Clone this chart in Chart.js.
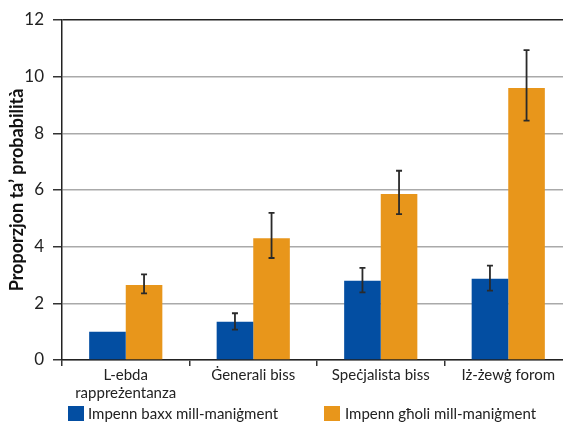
<!DOCTYPE html>
<html>
<head>
<meta charset="utf-8">
<script src="https://cdn.jsdelivr.net/npm/chart.js@4/dist/chart.umd.min.js"></script>
<style>
  html, body { margin: 0; padding: 0; background: #fff; overflow: hidden; width: 563px; height: 422px; }
  #wrap { position: absolute; left: 0; top: 0; width: 572px; height: 422px; }
  .lg { position: absolute; top: 404px; font-family: Lato, "Open Sans", sans-serif; font-size: 15px; color: #222; white-space: nowrap; }
  .lg span.box { position: absolute; top: 2px; width: 16px; height: 15px; }
  .lg span.txt { position: absolute; top: 0; line-height: 19px; }
</style>
</head>
<body>
<div id="wrap"><canvas id="c"></canvas></div>
<div class="lg" style="left:68px"><span class="box" style="left:0;background:#034ea2"></span><span class="txt" style="left:20px">Impenn baxx mill-maniġment</span></div>
<div class="lg" style="left:324px"><span class="box" style="left:0;background:#e8961b"></span><span class="txt" style="left:21px">Impenn għoli mill-maniġment</span></div>
<script>
const categories = [["L-ebda", "rappreżentanza"], "Ġenerali biss", "Speċjalista biss", "Iż-żewġ forom"];
const seriesNames = ["Impenn baxx mill-maniġment", "Impenn għoli mill-maniġment"];
const lowValues = [1.0, 1.35, 2.8, 2.87];
const lowErrLow = [null, 1.07, 2.39, 2.45];
const lowErrHigh = [null, 1.65, 3.25, 3.33];
const highValues = [2.65, 4.3, 5.86, 9.6];
const highErrLow = [2.35, 3.6, 5.15, 8.45];
const highErrHigh = [3.02, 5.19, 6.68, 10.94];
const yTicks = [0, 2, 4, 6, 8, 10, 12];
const yTitle = "Proporzjon ta\u2019 probabilità";

const errLows = [lowErrLow, highErrLow];
const errHighs = [lowErrHigh, highErrHigh];

const errorBars = {
  id: 'errorBars',
  afterDatasetsDraw(chart) {
    const ctx = chart.ctx;
    const y = chart.scales.y;
    ctx.save();
    ctx.strokeStyle = '#2a2a2a';
    ctx.lineWidth = 1.8;
    chart.data.datasets.forEach((ds, di) => {
      const meta = chart.getDatasetMeta(di);
      meta.data.forEach((bar, i) => {
        const lo = errLows[di][i], hi = errHighs[di][i];
        if (lo == null || hi == null) return;
        const x = bar.x;
        const yl = y.getPixelForValue(lo), yh = y.getPixelForValue(hi);
        ctx.beginPath();
        ctx.moveTo(x, yl); ctx.lineTo(x, yh);
        ctx.moveTo(x - 3, yl); ctx.lineTo(x + 3, yl);
        ctx.moveTo(x - 3, yh); ctx.lineTo(x + 3, yh);
        ctx.stroke();
      });
    });
    ctx.restore();
  }
};

const FONT = 'Lato, "Open Sans", sans-serif';

new Chart(document.getElementById('c'), {
  type: 'bar',
  data: {
    labels: categories,
    datasets: [
      { label: seriesNames[0], data: lowValues, backgroundColor: '#034ea2', categoryPercentage: 0.574, barPercentage: 1 },
      { label: seriesNames[1], data: highValues, backgroundColor: '#e8961b', categoryPercentage: 0.574, barPercentage: 1 }
    ]
  },
  options: {
    responsive: true,
    maintainAspectRatio: false,
    animation: false,
    layout: { padding: { top: 20, right: 0, left: 0, bottom: 0 } },
    plugins: { legend: { display: false }, tooltip: { enabled: false } },
    scales: {
      x: {
        offset: true,
        grid: { offset: true, drawOnChartArea: false, drawTicks: true, tickLength: 6, color: '#333', lineWidth: 1.5 },
        border: { display: true, color: '#222', width: 1.5 },
        ticks: { color: '#222', font: { family: FONT, size: 15 }, padding: 0, maxRotation: 0, autoSkip: false },
        afterFit(scale) { scale.height = 62; }
      },
      y: {
        min: 0, max: 12,
        afterBuildTicks(scale) { scale.ticks = yTicks.map(v => ({ value: v })); },
        grid: {
          color: ctx => (ctx.tick && ctx.tick.value === 12) ? '#222' : '#aaa',
          lineWidth: 1.5,
          tickLength: 9,
          tickColor: '#333'
        },
        border: { display: true, color: '#222', width: 1.5 },
        ticks: { color: '#222', font: { family: FONT, size: 17 }, padding: 9 },
        title: { display: true, text: yTitle, color: '#111', font: { family: FONT, size: 18, weight: 'bold' }, padding: { top: 6, bottom: 0 } },
        afterFit(scale) { scale.width = 62; }
      }
    }
  },
  plugins: [errorBars]
});
</script>
</body>
</html>
